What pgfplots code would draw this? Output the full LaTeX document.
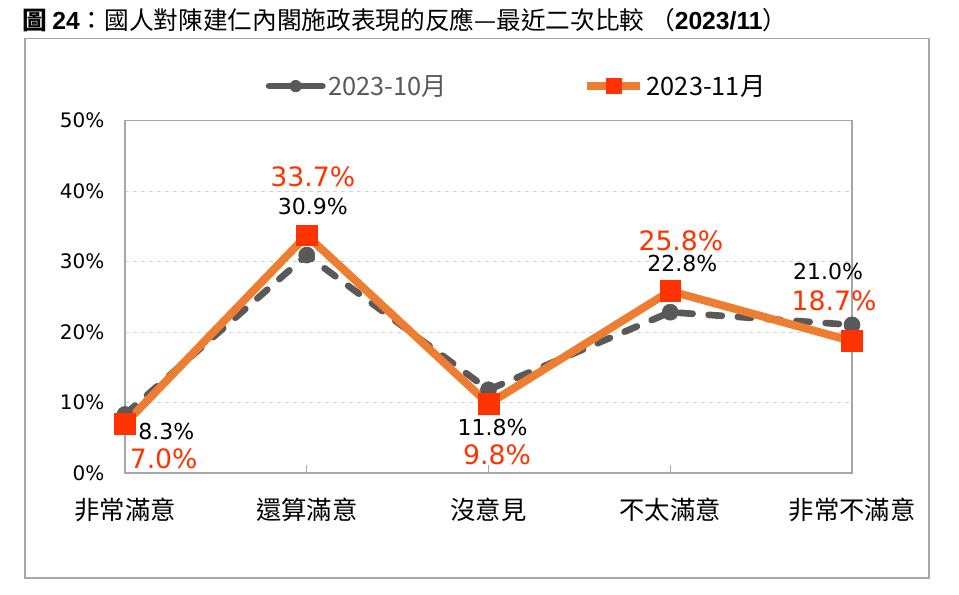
\documentclass[border=0pt]{standalone}
\usepackage{pgfplots}
\pgfplotsset{compat=1.18}
\usepackage{pgfplotstable}
\usepackage{fontspec}
\setmainfont{DejaVu Sans}
\newfontfamily\cjk{Noto Sans CJK TC}
\newfontfamily\arialfont{Liberation Sans}

\definecolor{seriesgray}{HTML}{595959}
\definecolor{seriesorange}{HTML}{ED7D31}
\definecolor{markred}{HTML}{FF3300}
\definecolor{framegray}{HTML}{A6A6A6}

% x = category index, y = percent, dx/dy = label offset in pt
\pgfplotstableread{
x y dx dy
0 8.3 31 -13
1 30.9 4.5 36.4
2 11.8 3 -28
3 22.8 9 36.4
4 21.0 -18 40
}\octdata

\pgfplotstableread{
x y dx dy
0 7.0 29 -26.5
1 33.7 4.5 44
2 9.8 6.4 -38
3 25.8 8 37.8
4 18.7 -13.5 30
}\novdata

\begin{document}
\begin{tikzpicture}
\path[use as bounding box] (0,0) rectangle (719.25pt,-445.5pt);
\draw[framegray, line width=1.2pt] (18.75pt,-29pt) rectangle (696.75pt,-433.5pt);
\node[anchor=west, inner sep=0pt, font=\cjk\fontsize{18.5}{21}\selectfont]
  at (16.5pt,-15pt) {{\bfseries 圖} {\arialfont\bfseries 24}：國人對陳建仁內閣施政表現的反應—最近二次比較 （{\arialfont\bfseries 2023/11}）};

\begin{axis}[
  at={(93.75pt,-354.75pt)}, anchor=south west,
  scale only axis,
  width=545.25pt, height=264.5pt,
  xmin=0, xmax=4, ymin=0, ymax=50,
  clip=false,
  axis line style={framegray, line width=1pt},
  xtick={0,1,2,3,4},
  xticklabels={非常滿意,還算滿意,沒意見,不太滿意,非常不滿意},
  xticklabel style={font=\cjk\fontsize{19}{21}\selectfont, yshift=-15pt},
  x tick style={framegray, line width=0.8pt},
  tick align=inside,
  major tick length=6pt,
  xtick pos=bottom,
  ytick={0,10,...,50},
  yticklabel={\pgfmathprintnumber{\tick}\%},
  yticklabel style={font=\fontsize{15}{17}\selectfont, xshift=-12pt},
  y tick style={draw=none},
  ymajorgrids,
  major grid style={gray!35, dashed, line width=0.5pt},
  /pgf/number format/assume math mode=true,
  legend columns=2,
  legend style={at={(0.539,1.097)}, anchor=center, draw=none, fill=none,
    font=\cjk\fontsize{19}{22}\selectfont,
    /tikz/every even column/.append style={column sep=100pt}},
  legend image code/.code={
    \draw[#1, solid, mark repeat=2, mark phase=2,
      /tikz/every mark/.append style={scale=0.72}]
      plot coordinates {(0pt,0pt) (20pt,0pt) (40pt,0pt)};},
]
\addplot[seriesgray, line width=5pt, dash pattern=on 10pt off 12pt, line cap=round,
  mark=*, mark size=6pt,
  mark options={solid, fill=seriesgray, draw=seriesgray, line width=0.5pt},
  point meta=y,
  visualization depends on={\thisrow{dx} \as \dx},
  visualization depends on={\thisrow{dy} \as \dy},
  nodes near coords={\pgfmathprintnumber[fixed,fixed zerofill,precision=1]{\pgfplotspointmeta}\%},
  every node near coord/.append style={anchor=center, xshift=\dx pt, yshift=\dy pt,
    text=black, font=\fontsize{16.5}{18}\selectfont}]
  table[x=x, y=y] {\octdata};
\addlegendentry{\textcolor{seriesgray}{2023-10月}}

\addplot[seriesorange, line width=6pt,
  mark=square*, mark size=7.8pt,
  mark options={fill=markred, draw=markred, line width=0.5pt},
  point meta=y,
  visualization depends on={\thisrow{dx} \as \dx},
  visualization depends on={\thisrow{dy} \as \dy},
  nodes near coords={\pgfmathprintnumber[fixed,fixed zerofill,precision=1]{\pgfplotspointmeta}\%},
  every node near coord/.append style={anchor=center, xshift=\dx pt, yshift=\dy pt,
    text=markred, font=\fontsize{20}{22}\selectfont}]
  table[x=x, y=y] {\novdata};
\addlegendentry{2023-11月}
\end{axis}
\end{tikzpicture}
\end{document}
